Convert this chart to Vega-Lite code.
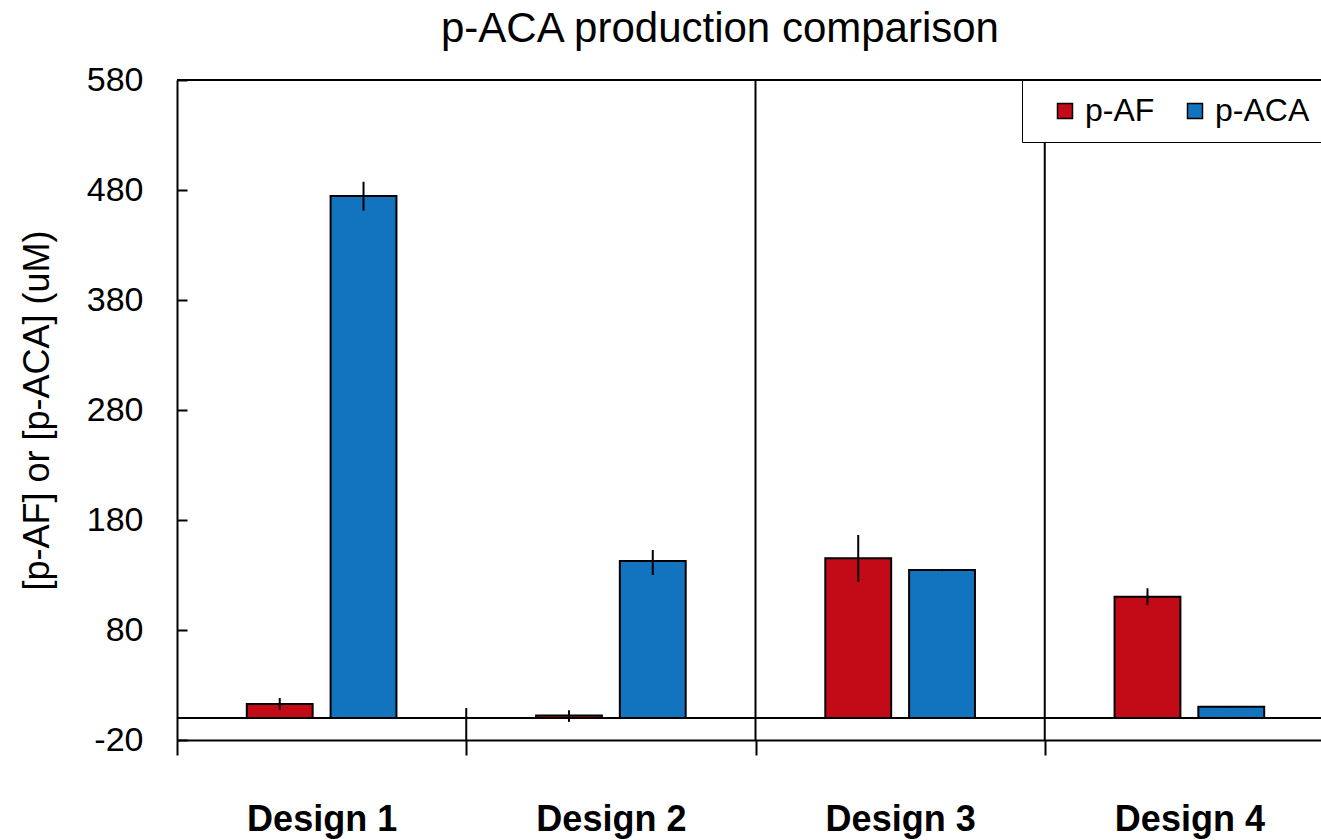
{
  "$schema": "https://vega.github.io/schema/vega-lite/v6.json",
  "width": 1144,
  "height": 660,
  "autosize": {"type": "none"},
  "padding": {"left": 177, "top": 80, "right": 0, "bottom": 100},
  "background": "white",
  "config": {"view": {"stroke": null}, "font": "Liberation Sans"},
  "title": {
    "text": "p-ACA production comparison",
    "fontSize": 42,
    "fontWeight": "normal",
    "font": "Liberation Sans",
    "color": "black",
    "anchor": "middle",
    "frame": "group",
    "dx": -29,
    "baseline": "alphabetic",
    "offset": -21
  },
  "data": {
    "values": [
      {"Design": "Design 1", "Series": "p-AF", "value": 12.7, "lo": 7.3, "hi": 18.2},
      {"Design": "Design 1", "Series": "p-ACA", "value": 474.5, "lo": 461.2, "hi": 487.5},
      {"Design": "Design 2", "Series": "p-AF", "value": 2.2, "lo": -3.5, "hi": 7},
      {"Design": "Design 2", "Series": "p-ACA", "value": 142.7, "lo": 130, "hi": 152.7},
      {"Design": "Design 3", "Series": "p-AF", "value": 145.2, "lo": 123.9, "hi": 166.4},
      {"Design": "Design 3", "Series": "p-ACA", "value": 134.5, "lo": 133.5, "hi": 135.5},
      {"Design": "Design 4", "Series": "p-AF", "value": 110.3, "lo": 102.7, "hi": 117.9},
      {"Design": "Design 4", "Series": "p-ACA", "value": 10.3, "lo": 9.8, "hi": 10.8}
    ]
  },
  "layer": [
    {
      "mark": {"type": "bar", "stroke": "black", "strokeWidth": 2},
      "encoding": {
        "x": {
          "field": "Design",
          "type": "nominal",
          "scale": {"range": [0, 1157], "paddingInner": 0, "paddingOuter": 0},
          "axis": {
            "title": null,
            "tickBand": "extent",
            "tickSize": 15,
            "tickWidth": 2,
            "tickColor": "black",
            "domainColor": "black",
            "domainWidth": 2,
            "labelAngle": 0,
            "labelFontSize": 36,
            "labelFontWeight": "bold",
            "labelFont": "Liberation Sans",
            "labelColor": "black",
            "labelPadding": 47,
            "grid": false
          }
        },
        "xOffset": {
          "field": "Series",
          "type": "nominal",
          "scale": {"domain": ["p-AF", "p-ACA"], "paddingInner": 0.214, "paddingOuter": 0.833}
        },
        "y": {
          "field": "value",
          "type": "quantitative",
          "scale": {"domain": [-20, 580], "nice": false, "zero": false},
          "axis": {
            "title": "[p-AF] or [p-ACA] (uM)",
            "values": [-20, 80, 180, 280, 380, 480, 580],
            "labelExpr": "'' + datum.value",
            "tickSize": -10,
            "tickWidth": 2,
            "tickColor": "black",
            "domainColor": "black",
            "domainWidth": 2,
            "labelFontSize": 34,
            "labelFont": "Liberation Sans",
            "labelColor": "black",
            "labelPadding": 44,
            "titleFontSize": 36,
            "titleFont": "Liberation Sans",
            "titleFontWeight": "normal",
            "titleColor": "black",
            "titlePadding": 30,
            "grid": false
          }
        },
        "y2": {"datum": 0},
        "color": {
          "field": "Series",
          "type": "nominal",
          "scale": {"domain": ["p-AF", "p-ACA"], "range": ["#C20B17", "#1273BF"]},
          "legend": {
            "orient": "none",
            "legendX": 845,
            "legendY": 0,
            "direction": "horizontal",
            "title": " ",
            "titleOrient": "left",
            "titleFontSize": 10,
            "titlePadding": 12,
            "padding": 15,
            "fillColor": "white",
            "strokeColor": "black",
            "symbolType": "square",
            "symbolSize": 225,
            "symbolStrokeColor": "black",
            "symbolStrokeWidth": 1.5,
            "symbolOpacity": 1,
            "labelFontSize": 32,
            "labelFont": "Liberation Sans",
            "labelColor": "black",
            "labelOffset": 4,
            "columnPadding": 24
          }
        }
      }
    },
    {
      "mark": {"type": "rule", "color": "black", "strokeWidth": 2},
      "encoding": {
        "x": {"field": "Design", "type": "nominal"},
        "xOffset": {"field": "Series", "type": "nominal"},
        "y": {"field": "lo", "type": "quantitative", "title": "[p-AF] or [p-ACA] (uM)"},
        "y2": {"field": "hi"}
      }
    },
    {
      "data": {"values": [{"Design": "Design 3"}, {"Design": "Design 4"}]},
      "mark": {"type": "rule", "color": "black", "strokeWidth": 2},
      "encoding": {
        "x": {"field": "Design", "type": "nominal", "bandPosition": 0},
        "y": {"datum": -20},
        "y2": {"datum": 580}
      }
    },
    {
      "data": {"values": [{"Design": "Design 2"}]},
      "mark": {"type": "rule", "color": "black", "strokeWidth": 2},
      "encoding": {
        "x": {"field": "Design", "type": "nominal", "bandPosition": 0},
        "y": {"datum": -20},
        "y2": {"datum": 9}
      }
    },
    {
      "data": {"values": [{"line": "zero"}]},
      "mark": {"type": "rule", "color": "black", "strokeWidth": 2},
      "encoding": {"y": {"datum": 0}}
    },
    {
      "data": {"values": [{"line": "top"}]},
      "mark": {"type": "rule", "color": "black", "strokeWidth": 2},
      "encoding": {"y": {"datum": 580}}
    }
  ]
}
